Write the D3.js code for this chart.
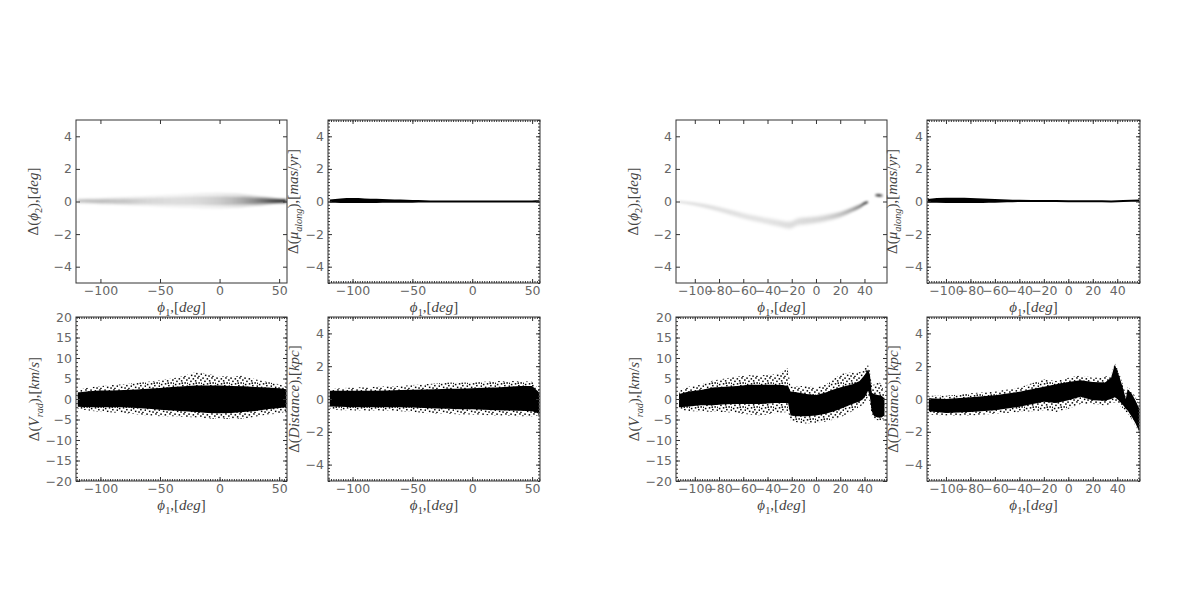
<!DOCTYPE html>
<html><head><meta charset="utf-8">
<script src="https://cdn.jsdelivr.net/npm/d3@7"></script>
<style>body{margin:0;background:#fff} svg{display:block;background:#fff}</style>
</head><body><svg id="chart" width="1200" height="600"></svg>
<script>
// ---------------- DATA ----------------
// Model A (left group)
const phi1A = [-119,-110,-100,-90,-80,-70,-60,-50,-40,-30,-20,-10,0,10,20,30,40,50,56];
const dPhi2A_center  = [0.03,0.03,0.02,0.02,0.02,0.02,0.03,0.03,0.03,0.04,0.05,0.05,0.05,0.05,0.05,0.04,0.04,0.03,0.03];
const dPhi2A_spread  = [0.15,0.17,0.2,0.22,0.25,0.28,0.32,0.36,0.4,0.44,0.46,0.48,0.48,0.45,0.4,0.32,0.24,0.16,0.14];
const dPhi2A_density = [0.2,0.22,0.22,0.2,0.19,0.16,0.13,0.12,0.11,0.11,0.12,0.14,0.17,0.22,0.3,0.42,0.6,0.85,0.95];
const dMuA_center = [0.02,0.05,0.06,0.05,0.04,0.03,0.02,0.01,0.01,0.0,0.0,0.0,0.0,0.0,0.0,0.0,0.0,0.0,0.0];
const dMuA_half   = [0.1,0.14,0.15,0.14,0.13,0.11,0.1,0.08,0.07,0.06,0.06,0.06,0.06,0.06,0.06,0.06,0.06,0.06,0.07];
const dVradA_coreLo = [-1.9,-2.0,-2.0,-2.0,-2.0,-2.2,-2.4,-2.6,-2.8,-3.0,-3.2,-3.4,-3.5,-3.4,-3.2,-2.9,-2.5,-2.2,-2.0];
const dVradA_coreHi = [1.6,1.9,2.1,2.1,2.2,2.3,2.5,2.7,2.9,3.1,3.3,3.3,3.3,3.2,3.1,2.9,2.8,2.6,2.4];
const dVradA_scatLo = [-2.4,-2.8,-3.2,-3.3,-3.4,-3.7,-4.0,-4.2,-4.2,-4.3,-4.5,-4.8,-4.9,-4.9,-4.8,-4.3,-3.8,-3.6,-3.0];
const dVradA_scatHi = [2.2,2.8,3.2,3.4,3.6,3.9,4.2,4.6,5.0,5.6,6.6,6.2,5.6,5.4,5.8,4.8,4.2,3.6,3.0];
const dDistA_coreLo = [-0.45,-0.48,-0.5,-0.5,-0.5,-0.5,-0.5,-0.52,-0.55,-0.58,-0.6,-0.62,-0.63,-0.65,-0.68,-0.7,-0.72,-0.75,-0.9];
const dDistA_coreHi = [0.5,0.5,0.5,0.5,0.5,0.52,0.55,0.56,0.58,0.6,0.62,0.63,0.65,0.68,0.7,0.75,0.8,0.8,0.4];
const dDistA_scatLo = [-0.6,-0.68,-0.7,-0.72,-0.72,-0.72,-0.75,-0.8,-0.85,-0.88,-0.9,-0.95,-0.95,-0.98,-1.0,-1.02,-1.05,-1.05,-1.0];
const dDistA_scatHi = [0.6,0.65,0.7,0.72,0.75,0.78,0.8,0.85,0.9,0.95,1.0,1.0,1.0,1.05,1.1,1.1,1.1,1.05,0.6];

// Model B (right group)
const phi1Phi2B = [-113,-100,-90,-80,-70,-60,-50,-40,-30,-22,-15,-10,0,10,20,30,36,41,43,46,49,52,55];
const dPhi2B_center  = [-0.02,-0.15,-0.3,-0.48,-0.68,-0.88,-1.05,-1.2,-1.35,-1.45,-1.25,-1.2,-1.12,-0.98,-0.8,-0.5,-0.3,-0.08,-0.05,null,0.38,0.38,0.36];
const dPhi2B_spread  = [0.1,0.14,0.18,0.2,0.22,0.24,0.25,0.26,0.28,0.3,0.3,0.3,0.28,0.26,0.22,0.18,0.14,0.1,0.08,null,0.08,0.1,0.08];
const dPhi2B_density = [0.1,0.1,0.1,0.1,0.1,0.09,0.09,0.09,0.1,0.11,0.11,0.12,0.13,0.15,0.2,0.3,0.45,0.85,0.6,null,0.6,0.95,0.5];
const phi1MuB = [-115,-100,-90,-80,-70,-60,-50,-40,-20,0,20,35,45,58];
const dMuB_center = [0.04,0.07,0.07,0.06,0.05,0.04,0.04,0.04,0.03,0.02,0.01,0.0,0.03,0.05];
const dMuB_half   = [0.12,0.16,0.16,0.15,0.14,0.12,0.09,0.07,0.06,0.06,0.06,0.06,0.06,0.07];
const phi1VradB = [-113,-105,-95,-85,-75,-65,-55,-45,-35,-28,-23,-21,-15,-8,0,8,15,22,30,36,40,43,44.5,46,48,51,54,56.5];
const dVradB_coreLo = [-2,-1.8,-1.5,-1.5,-1.3,-1.2,-1.2,-1.2,-1.0,-1.0,-1.0,-4.0,-4.2,-4.2,-4.0,-3.6,-3.0,-2.2,-1.2,-0.6,0.3,2.0,0.5,-3.0,-4.2,-4.5,-4.5,-4.0];
const dVradB_coreHi = [1.2,1.8,2.2,2.8,3.0,3.2,3.5,3.5,3.5,3.4,3.2,1.8,1.6,1.2,1.0,1.6,2.4,3.0,3.6,4.4,5.8,7.2,6.0,1.5,1.2,1.0,0.8,0.2];
const dVradB_scatLo = [-2.6,-3,-3,-3.2,-3.2,-3.5,-3.8,-4,-3.5,-3.3,-3.2,-5.2,-5.8,-6,-5.8,-5.5,-5,-4.2,-3,-2,-1,0.5,-1,-4,-5,-5.2,-5.2,-4.6];
const dVradB_scatHi = [2,3,3.5,4.5,5,5.5,5.8,5.8,6,6.5,7.6,3,3.2,3.2,2.8,3.5,5,6.2,6.5,6.5,7.5,8.3,7,3.5,3.5,4.5,3.5,1.5];
const phi1DistB = [-114,-100,-80,-60,-40,-20,-10,0,10,20,30,35,38,40,42,45,47,48.5,52,55,58];
const dDistB_coreLo = [-0.75,-0.85,-0.8,-0.68,-0.48,-0.17,-0.25,-0.07,0.13,-0.07,-0.1,0.0,0.1,0.0,-0.15,-0.4,-0.6,-0.7,-1.1,-1.5,-2.0];
const dDistB_coreHi = [0.05,0.0,0.1,0.23,0.44,0.74,0.9,1.04,1.15,1.04,1.0,1.3,2.1,1.7,1.3,0.6,0.0,0.6,0.3,-0.1,-0.6];
const dDistB_scatLo = [-0.95,-1.0,-1.0,-0.9,-0.8,-0.7,-0.8,-0.6,-0.3,-0.3,-0.4,-0.3,-0.2,-0.3,-0.4,-0.6,-0.8,-0.85,-1.25,-1.65,-2.1];
const dDistB_scatHi = [0.2,0.2,0.35,0.45,0.7,1.2,1.1,1.3,1.45,1.3,1.35,1.5,2.2,1.9,1.5,0.8,0.3,0.75,0.5,0.1,-0.4];

// Axis ranges and tick labels
const xDomainA = [-120.5, 56.6];
const xDomainB = [-115.5, 58.6];
const xTicksA = [-100, -50, 0, 50];
const xTicksB = [-100, -80, -60, -40, -20, 0, 20, 40];
const yDomainSmall = [-5, 5];
const yTicksSmall = [-4, -2, 0, 2, 4];
const yDomainVrad = [-20, 20];
const yTicksVrad = [-20, -15, -10, -5, 0, 5, 10, 15, 20];

// ---------------- RENDERING ----------------
const svg = d3.select("#chart");
const defs = svg.append("defs");
const TICK_COLOR = "#666", LABEL_COLOR = "#444", FRAME = "#333";

const pat = defs.append("pattern").attr("id", "stipple").attr("patternUnits", "userSpaceOnUse")
  .attr("width", 14).attr("height", 12);
[[0.3,0.4],[4.6,1.1],[9.2,0.2],[12.1,2.3],[2.2,3.6],[6.9,3.1],[10.4,5.2],[0.9,6.8],[4.8,6.1],
 [8.1,7.9],[12.6,8.4],[2.9,9.6],[6.3,10.3],[10.2,10.8],[13.1,5.6],[7.5,5.4]].forEach(([a, b]) =>
  pat.append("rect").attr("x", a).attr("y", b).attr("width", 1.5).attr("height", 1.5).attr("fill", "#000"));
const blur = defs.append("filter").attr("id", "blur").attr("x", "-20%").attr("y", "-50%").attr("width", "140%").attr("height", "200%");
blur.append("feGaussianBlur").attr("stdDeviation", 1.1);

let clipN = 0;
function makePanel(cfg) {
  const g = svg.append("g").attr("transform", `translate(${cfg.left},${cfg.top})`);
  const x = d3.scaleLinear().domain(cfg.xd).range([0, cfg.w]);
  const y = d3.scaleLinear().domain(cfg.yd).range([cfg.h, 0]);
  const id = "clip" + (clipN++);
  defs.append("clipPath").attr("id", id).append("rect").attr("width", cfg.w).attr("height", cfg.h);
  const plot = g.append("g").attr("clip-path", `url(#${id})`);
  return { g, plot, x, y, cfg };
}

function stepRange(lo, hi, step) {
  const out = [];
  const s = Math.ceil(lo / step - 1e-9);
  for (let i = s; i * step <= hi + 1e-9; i++) out.push(+(i * step).toFixed(6));
  return out;
}

function styleAxis(sel) {
  sel.select(".domain").remove();
  sel.selectAll("line").attr("stroke", FRAME).attr("stroke-width", 1);
  sel.attr("font-family", "'DejaVu Sans', sans-serif").attr("font-size", 12.5);
  sel.selectAll("text").attr("fill", TICK_COLOR);
}

function mathText(sel, parts, fs) {
  let shift = 0;
  parts.forEach(p => {
    const ts = sel.append("tspan").text(p.t);
    const target = p.sub ? fs * 0.28 : 0;
    if (target !== shift) { ts.attr("dy", target - shift); shift = target; }
    ts.attr("font-style", p.i ? "italic" : "normal").attr("font-size", p.sub ? fs * 0.68 : fs);
  });
}

function finishPanel(p, o) {
  const { g, x, y, cfg } = p;
  if (o.minorX) {
    const xm = stepRange(cfg.xd[0], cfg.xd[1], o.minorX);
    const ym = stepRange(cfg.yd[0], cfg.yd[1], o.minorY);
    g.append("g").attr("transform", `translate(0,${cfg.h})`).call(d3.axisBottom(x).tickValues(xm).tickSize(-2).tickFormat("")).call(styleAxis);
    g.append("g").call(d3.axisTop(x).tickValues(xm).tickSize(-2).tickFormat("")).call(styleAxis);
    g.append("g").call(d3.axisLeft(y).tickValues(ym).tickSize(-2).tickFormat("")).call(styleAxis);
    g.append("g").attr("transform", `translate(${cfg.w},0)`).call(d3.axisRight(y).tickValues(ym).tickSize(-2).tickFormat("")).call(styleAxis);
  }
  g.append("g").attr("transform", `translate(0,${cfg.h})`)
    .call(d3.axisBottom(x).tickValues(o.xTicks).tickSize(-4).tickPadding(3)).call(styleAxis);
  g.append("g").call(d3.axisTop(x).tickValues(o.xTicks).tickSize(-4).tickFormat("")).call(styleAxis);
  g.append("g").call(d3.axisLeft(y).tickValues(o.yTicks).tickSize(-4).tickPadding(4)).call(styleAxis);
  g.append("g").attr("transform", `translate(${cfg.w},0)`).call(d3.axisRight(y).tickValues(o.yTicks).tickSize(-4).tickFormat("")).call(styleAxis);
  g.append("rect").attr("width", cfg.w).attr("height", cfg.h).attr("fill", "none").attr("stroke", FRAME).attr("stroke-width", 1);

  const fs = 15;
  const xl = g.append("text").attr("x", cfg.w / 2).attr("y", cfg.h + 29).attr("text-anchor", "middle")
    .attr("font-family", "'Liberation Serif', 'DejaVu Serif', serif").attr("fill", LABEL_COLOR).attr("font-size", fs);
  mathText(xl, [{ t: "ϕ", i: 1 }, { t: "1", sub: 1 }, { t: ",[" }, { t: "deg", i: 1 }, { t: "]" }], fs);
  const yl = g.append("text").attr("transform", `translate(${-o.ylabOff},${cfg.h / 2}) rotate(-90)`).attr("text-anchor", "middle")
    .attr("font-family", "'Liberation Serif', 'DejaVu Serif', serif").attr("fill", LABEL_COLOR).attr("font-size", fs);
  mathText(yl, o.yLabel, fs);
}

function drawDensity(p, xs, center, spread, density, id) {
  const pts = xs.map((v, i) => ({ x: v, c: center[i], s: spread[i], d: density[i] }));
  const x0 = p.x(xs[0]), x1 = p.x(xs[xs.length - 1]);
  const grad = defs.append("linearGradient").attr("id", id).attr("gradientUnits", "userSpaceOnUse")
    .attr("x1", x0).attr("x2", x1).attr("y1", 0).attr("y2", 0);
  pts.filter(d => d.d != null).forEach(d =>
    grad.append("stop").attr("offset", (p.x(d.x) - x0) / (x1 - x0)).attr("stop-color", "#000").attr("stop-opacity", d.d));
  const area = k => d3.area().defined(d => d.c != null)
    .x(d => p.x(d.x)).y0(d => p.y(d.c - d.s * k)).y1(d => p.y(d.c + d.s * k)).curve(d3.curveMonotoneX);
  const layer = p.plot.append("g").attr("filter", "url(#blur)");
  layer.append("path").datum(pts).attr("d", area(1)).attr("fill", `url(#${id})`).attr("opacity", 0.45);
  layer.append("path").datum(pts).attr("d", area(0.55)).attr("fill", `url(#${id})`).attr("opacity", 0.8);
}

function drawBand(p, xs, center, half) {
  const pts = xs.map((v, i) => ({ x: v, c: center[i], h: half[i] }));
  p.plot.append("path").datum(pts)
    .attr("d", d3.area().x(d => p.x(d.x)).y0(d => p.y(d.c - d.h)).y1(d => p.y(d.c + d.h)).curve(d3.curveMonotoneX))
    .attr("fill", "#000");
}

function drawCloud(p, xs, lo, hi, slo, shi) {
  const pts = xs.map((v, i) => ({ x: v, lo: lo[i], hi: hi[i], slo: slo[i], shi: shi[i] }));
  p.plot.append("path").datum(pts)
    .attr("d", d3.area().x(d => p.x(d.x)).y0(d => p.y(d.slo)).y1(d => p.y(d.shi)))
    .attr("fill", "url(#stipple)");
  p.plot.append("path").datum(pts)
    .attr("d", d3.area().x(d => p.x(d.x)).y0(d => p.y(d.lo)).y1(d => p.y(d.hi)))
    .attr("fill", "#000");
}

const labPhi2 = [{ t: "Δ(" }, { t: "ϕ", i: 1 }, { t: "2", sub: 1 }, { t: "),[" }, { t: "deg", i: 1 }, { t: "]" }];
const labMu = [{ t: "Δ(" }, { t: "μ", i: 1 }, { t: "along", i: 1, sub: 1 }, { t: "),[" }, { t: "mas", i: 1 }, { t: "/" }, { t: "yr", i: 1 }, { t: "]" }];
const labVrad = [{ t: "Δ(" }, { t: "V", i: 1 }, { t: "rad", i: 1, sub: 1 }, { t: "),[" }, { t: "km", i: 1 }, { t: "/" }, { t: "s", i: 1 }, { t: "]" }];
const labDist = [{ t: "Δ(" }, { t: "Distance", i: 1 }, { t: "),[" }, { t: "kpc", i: 1 }, { t: "]" }];

const TOP = 120, TOP_H = 163, BOT = 317, BOT_H = 164;
const colLeft = [76, 328, 676, 927], colW = [211, 212, 211, 213];

// Model A
{
  const p1 = makePanel({ left: colLeft[0], top: TOP, w: colW[0], h: TOP_H, xd: xDomainA, yd: yDomainSmall });
  drawDensity(p1, phi1A, dPhi2A_center, dPhi2A_spread, dPhi2A_density, "gA");
  finishPanel(p1, { xTicks: xTicksA, yTicks: yTicksSmall, yLabel: labPhi2, ylabOff: 38 });

  const p2 = makePanel({ left: colLeft[1], top: TOP, w: colW[1], h: TOP_H, xd: xDomainA, yd: yDomainSmall });
  drawBand(p2, phi1A, dMuA_center, dMuA_half);
  finishPanel(p2, { xTicks: xTicksA, yTicks: yTicksSmall, minorX: 2, minorY: 0.2, yLabel: labMu, ylabOff: 30 });

  const p3 = makePanel({ left: colLeft[0], top: BOT, w: colW[0], h: BOT_H, xd: xDomainA, yd: yDomainVrad });
  drawCloud(p3, phi1A, dVradA_coreLo, dVradA_coreHi, dVradA_scatLo, dVradA_scatHi);
  finishPanel(p3, { xTicks: xTicksA, yTicks: yTicksVrad, minorX: 2, minorY: 1, yLabel: labVrad, ylabOff: 37 });

  const p4 = makePanel({ left: colLeft[1], top: BOT, w: colW[1], h: BOT_H, xd: xDomainA, yd: yDomainSmall });
  drawCloud(p4, phi1A, dDistA_coreLo, dDistA_coreHi, dDistA_scatLo, dDistA_scatHi);
  finishPanel(p4, { xTicks: xTicksA, yTicks: yTicksSmall, minorX: 2, minorY: 0.2, yLabel: labDist, ylabOff: 29 });
}
// Model B
{
  const p1 = makePanel({ left: colLeft[2], top: TOP, w: colW[2], h: TOP_H, xd: xDomainB, yd: yDomainSmall });
  drawDensity(p1, phi1Phi2B, dPhi2B_center, dPhi2B_spread, dPhi2B_density, "gB");
  finishPanel(p1, { xTicks: xTicksB, yTicks: yTicksSmall, yLabel: labPhi2, ylabOff: 38 });

  const p2 = makePanel({ left: colLeft[3], top: TOP, w: colW[3], h: TOP_H, xd: xDomainB, yd: yDomainSmall });
  drawBand(p2, phi1MuB, dMuB_center, dMuB_half);
  finishPanel(p2, { xTicks: xTicksB, yTicks: yTicksSmall, minorX: 2, minorY: 0.2, yLabel: labMu, ylabOff: 30 });

  const p3 = makePanel({ left: colLeft[2], top: BOT, w: colW[2], h: BOT_H, xd: xDomainB, yd: yDomainVrad });
  drawCloud(p3, phi1VradB, dVradB_coreLo, dVradB_coreHi, dVradB_scatLo, dVradB_scatHi);
  finishPanel(p3, { xTicks: xTicksB, yTicks: yTicksVrad, minorX: 2, minorY: 1, yLabel: labVrad, ylabOff: 37 });

  const p4 = makePanel({ left: colLeft[3], top: BOT, w: colW[3], h: BOT_H, xd: xDomainB, yd: yDomainSmall });
  drawCloud(p4, phi1DistB, dDistB_coreLo, dDistB_coreHi, dDistB_scatLo, dDistB_scatHi);
  finishPanel(p4, { xTicks: xTicksB, yTicks: yTicksSmall, minorX: 2, minorY: 0.2, yLabel: labDist, ylabOff: 29 });
}
</script></body></html>
